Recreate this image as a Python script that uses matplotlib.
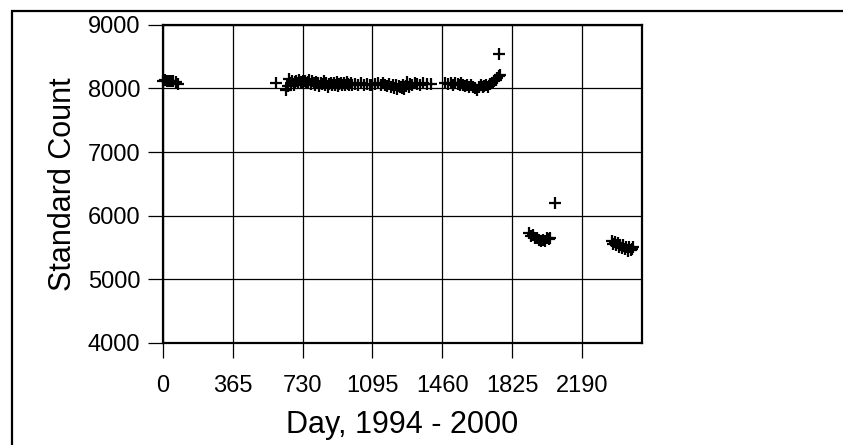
import matplotlib
matplotlib.use('Agg')
import matplotlib.pyplot as plt
from matplotlib.patches import Rectangle

# first run, days 0 - 80
day_a = [2, 12, 22, 32, 42, 55, 68, 80]
count_a = [8120, 8130, 8110, 8125, 8115, 8120, 8100, 8070]

# second run, days 590 - 1400
day_b = [591, 646, 652, 660, 668, 675, 683, 690, 698, 705, 713, 720, 728, 735,
         743, 750, 758, 765, 773, 780, 788, 795, 803, 810, 818, 825, 833, 840,
         848, 855, 863, 870, 878, 885, 893, 900, 908, 915, 923, 930, 938, 945,
         953, 960, 968, 975, 983, 990, 1005, 1020, 1035, 1050, 1065, 1080, 1095,
         1110, 1125, 1140, 1150, 1160, 1170, 1180, 1190, 1200, 1210, 1218, 1225,
         1233, 1240, 1248, 1255, 1262, 1270, 1278, 1285, 1293, 1300, 1315, 1330,
         1345, 1360, 1380, 1400]
count_b = [8090, 7980, 8040, 8150, 8090, 8120, 8060, 8100, 8110, 8090, 8130,
           8100, 8080, 8110, 8120, 8090, 8100, 8130, 8070, 8110, 8090, 8060,
           8100, 8080, 8040, 8090, 8070, 8110, 8050, 8080, 8030, 8070, 8090,
           8050, 8080, 8060, 8100, 8040, 8070, 8090, 8050, 8080, 8060, 8100,
           8070, 8050, 8080, 8060, 8070, 8050, 8080, 8060, 8070, 8050, 8060,
           8070, 8080, 8050, 8090, 8060, 8040, 8070, 8030, 8060, 8010, 8050,
           7990, 8040, 8020, 8000, 8060, 7990, 8040, 8100, 8030, 8070, 8050,
           8080, 8070, 8060, 8080, 8070, 8070]

# third run, days 1475 - 1765
day_c = [1475, 1490, 1505, 1515, 1525, 1540, 1550, 1560, 1570, 1580, 1590, 1600,
         1610, 1620, 1630, 1640, 1650, 1660, 1670, 1680, 1690, 1700, 1710, 1720,
         1730, 1740, 1748, 1755, 1762, 1757]
count_c = [8080, 8070, 8090, 8060, 8080, 8070, 8050, 8080, 8060, 8040, 8050,
           8030, 8060, 8020, 8000, 7980, 8030, 8050, 8020, 8040, 8060, 8030,
           8070, 8090, 8110, 8140, 8170, 8190, 8210, 8550]

# fourth run, days 1915 - 2045
day_d = [1915, 1925, 1935, 1945, 1955, 1965, 1975, 1985, 1995, 2005, 2015, 2022,
         2046]
count_d = [5720, 5680, 5690, 5650, 5640, 5610, 5600, 5620, 5600, 5640, 5630,
           5650, 6200]

# fifth run, days 2345 - 2455
day_e = [2345, 2352, 2360, 2368, 2375, 2383, 2390, 2398, 2405, 2413, 2420, 2428,
         2435, 2443, 2450, 2455]
count_e = [5600, 5560, 5580, 5530, 5570, 5510, 5540, 5490, 5530, 5470, 5500,
           5450, 5510, 5460, 5480, 5500]

xticks = [0, 365, 730, 1095, 1460, 1825, 2190]
yticks = [4000, 5000, 6000, 7000, 8000, 9000]

plt.rcParams['font.family'] = ['Liberation Sans', 'DejaVu Sans']

fig = plt.figure(figsize=(8.43, 4.45), dpi=100)
ax = fig.add_axes([0.193, 0.230, 0.568, 0.714])

for d, c in [(day_a, count_a), (day_b, count_b), (day_c, count_c),
             (day_d, count_d), (day_e, count_e)]:
    ax.plot(d, c, linestyle='none', marker='+', color='black',
            markersize=8, markeredgewidth=1.6, clip_on=False)

ax.set_xlim(0, 2500)
ax.set_ylim(4000, 9000)
ax.set_xticks(xticks)
ax.set_yticks(yticks)
ax.grid(True, color='black', linewidth=0.9)
ax.tick_params(direction='out', length=11, width=0.9, labelsize=17)
ax.tick_params(axis='x', pad=12)
ax.tick_params(axis='y', pad=5)
for s in ax.spines.values():
    s.set_linewidth(1.6)
ax.set_xlabel('Day, 1994 - 2000', fontsize=22, labelpad=10)
ax.set_ylabel('Standard Count', fontsize=22, labelpad=7)

# frame round the whole picture
fig.add_artist(Rectangle((11.5 / 843, -0.2), 2, 1.2 - 10.5 / 445,
                         transform=fig.transFigure, fill=False,
                         edgecolor='black', linewidth=1.6))

plt.savefig('out.png', dpi=100)
